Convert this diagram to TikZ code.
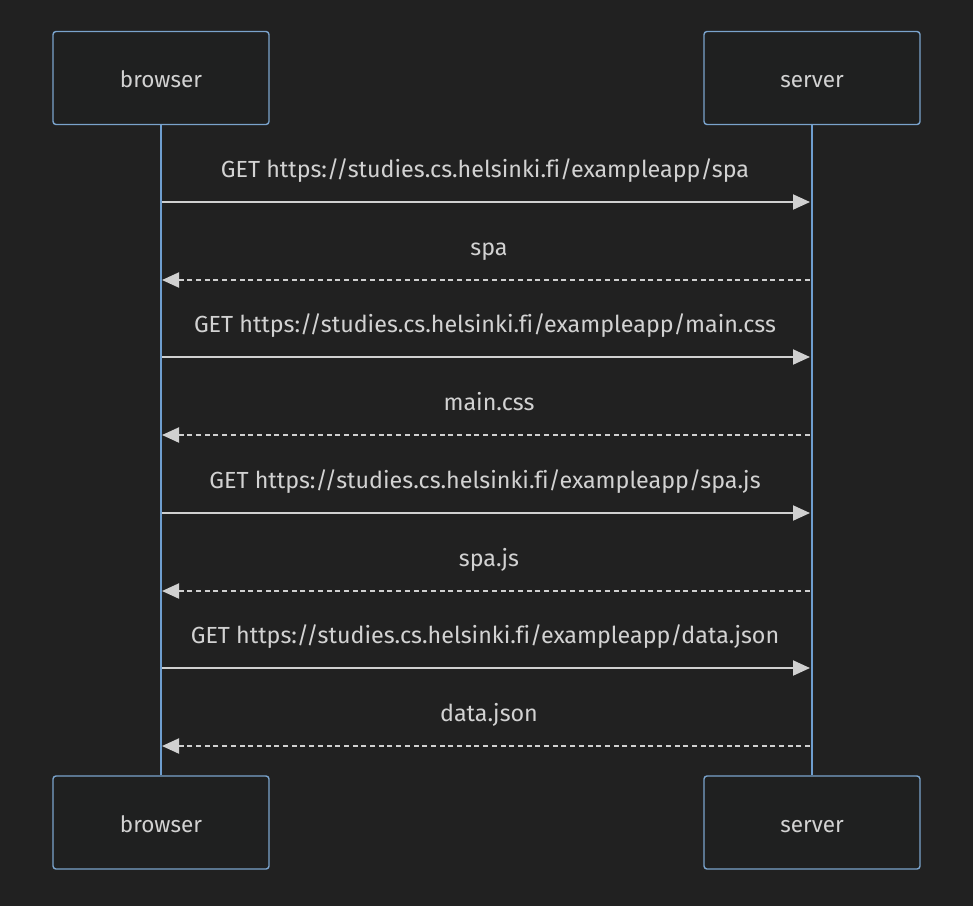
\documentclass[tikz,border=0pt]{standalone}
\usepackage{fontspec}
\setmainfont[Ligatures=NoCommon]{Fira Sans}
\usetikzlibrary{arrows.meta}
\definecolor{bg}{HTML}{212121}
\definecolor{boxfill}{HTML}{1F2020}
\definecolor{boxline}{HTML}{7AA3CC}
\definecolor{life}{HTML}{6F9FD0}
\definecolor{msg}{HTML}{D0D0D0}
\definecolor{txt}{HTML}{D2D2D2}
\tikzset{
  actor/.style={draw=boxline, fill=boxfill, line width=1.4pt, rounded corners=3pt,
    minimum width=216pt, minimum height=93pt, inner sep=0pt, text=txt,
    text height=20pt, text depth=1pt,
    font=\fontsize{22.5}{26}\selectfont},
  lifeline/.style={draw=life, line width=2.8pt},
  req/.style={draw=msg, line width=2pt, -{Triangle[length=17pt,width=15pt]}},
  resp/.style={draw=msg, line width=2pt, dash pattern=on 5pt off 3.7pt, -{Triangle[length=17pt,width=15pt]}},
  lbl/.style={text=txt, font=\fontsize{23.3}{26}\selectfont, inner sep=0pt,
    text height=18pt, text depth=4pt}
}
\begin{document}
\begin{tikzpicture}[x=1pt,y=-1pt]
\fill[bg] (0,0) rectangle (973,906);
\useasboundingbox (0,0) rectangle (973,906);
\node[actor] (b1) at (161,78) {browser};
\node[actor] (s1) at (812,78) {server};
\node[actor] (b2) at (161,822.5) {browser};
\node[actor] (s2) at (812,822.5) {server};
\draw[lifeline] (b1.south) -- (b2.north);
\draw[lifeline] (s1.south) -- (s2.north);
\foreach \n/\y in {1/202,2/280,3/357,4/435,5/513,6/591,7/668,8/746}{
  \coordinate (bl\n) at (162,\y);
  \coordinate (sl\n) at (810,\y);
}
\draw[req] (bl1) -- (sl1);
\draw[resp] (sl2) -- (bl2);
\draw[req] (bl3) -- (sl3);
\draw[resp] (sl4) -- (bl4);
\draw[req] (bl5) -- (sl5);
\draw[resp] (sl6) -- (bl6);
\draw[req] (bl7) -- (sl7);
\draw[resp] (sl8) -- (bl8);
\node[lbl] (m1) at (485,170) {GET https://studies.cs.helsinki.fi/exampleapp/spa};
\node[lbl] (m2) at (489,248) {spa};
\node[lbl] (m3) at (485,325) {GET https://studies.cs.helsinki.fi/exampleapp/main.css};
\node[lbl] (m4) at (489,403) {main.css};
\node[lbl] (m5) at (485,481) {GET https://studies.cs.helsinki.fi/exampleapp/spa.js};
\node[lbl] (m6) at (489,559) {spa.js};
\node[lbl] (m7) at (485,636) {GET https://studies.cs.helsinki.fi/exampleapp/data.json};
\node[lbl] (m8) at (489,714) {data.json};
\end{tikzpicture}
\end{document}
